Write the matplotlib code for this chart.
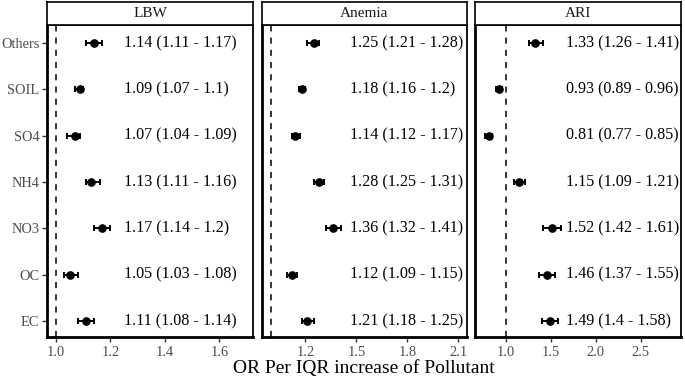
import matplotlib
matplotlib.use("Agg")
import matplotlib.pyplot as plt

plt.rcParams["font.family"] = ["Liberation Serif", "DejaVu Serif"]

# Pollutants, top to bottom
pollutants = ["Others", "SOIL", "SO4", "NH4", "NO3", "OC", "EC"]
outcomes = ["LBW", "Anemia", "ARI"]

lbw_or = [1.14, 1.09, 1.07, 1.13, 1.17, 1.05, 1.11]
lbw_lo = [1.11, 1.07, 1.04, 1.11, 1.14, 1.03, 1.08]
lbw_hi = [1.17, 1.10, 1.09, 1.16, 1.20, 1.08, 1.14]

anemia_or = [1.25, 1.18, 1.14, 1.28, 1.36, 1.12, 1.21]
anemia_lo = [1.21, 1.16, 1.12, 1.25, 1.32, 1.09, 1.18]
anemia_hi = [1.28, 1.20, 1.17, 1.31, 1.41, 1.15, 1.25]

ari_or = [1.33, 0.93, 0.81, 1.15, 1.52, 1.46, 1.49]
ari_lo = [1.26, 0.89, 0.77, 1.09, 1.42, 1.37, 1.40]
ari_hi = [1.41, 0.96, 0.85, 1.21, 1.61, 1.55, 1.58]

lbw_ticks = [1.0, 1.2, 1.4, 1.6]
anemia_ticks = [1.2, 1.5, 1.8, 2.1]
ari_ticks = [1.0, 1.5, 2.0, 2.5]

W, H = 685, 380
fig = plt.figure(figsize=(W / 100, H / 100), dpi=100)

# panel pixel layout: (left, right, xlim, text x in axes fraction, data...)
panels = [
    (47, 253, (0.967, 1.724), 0.374, lbw_or, lbw_lo, lbw_hi, lbw_ticks),
    (262, 467, (0.945, 2.151), 0.43, anemia_or, anemia_lo, anemia_hi, anemia_ticks),
    (475, 681, (0.659, 2.948), 0.442, ari_or, ari_lo, ari_hi, ari_ticks),
]
top, bottom, strip_top = 25, 337, 2
n = len(pollutants)
ypos = [n - i for i in range(n)]


def fmt(v):
    return f"{v:g}"


for k, (l, r, xlim, tx, est, lo, hi, ticks) in enumerate(panels):
    ax = fig.add_axes([l / W, 1 - bottom / H, (r - l) / W, (bottom - top) / H])
    ax.axvline(1.0, color="black", linestyle=(0, (4, 4)), linewidth=1.1, zorder=1)
    xerr = [[e - a for e, a in zip(est, lo)], [b - e for e, b in zip(est, hi)]]
    ax.errorbar(est, ypos, xerr=xerr, fmt="o", color="black", markersize=5.2,
                elinewidth=1.4, capsize=2.5, capthick=1.4, zorder=3)
    for y, e, a, b in zip(ypos, est, lo, hi):
        ax.text(tx, y, f"{fmt(e)} ({fmt(a)} - {fmt(b)})", transform=ax.get_yaxis_transform(),
                ha="left", va="center", fontsize=11.6, color="black")
    ax.set_xlim(*xlim)
    ax.set_ylim(0.655, 7.39)
    ax.set_xticks(ticks)
    ax.set_xticklabels([f"{t:.1f}" for t in ticks])
    ax.set_yticks(ypos)
    if k == 0:
        ax.set_yticklabels(pollutants)
        ax.tick_params(axis="y", length=3.5, width=1.0, colors="#333333",
                       labelsize=10.4, labelcolor="#4d4d4d", pad=2)
    else:
        ax.tick_params(axis="y", left=False, labelleft=False)
    ax.tick_params(axis="x", length=3.5, width=1.0, colors="#333333",
                   labelsize=10.4, labelcolor="#4d4d4d", pad=3)
    for s in ax.spines.values():
        s.set_linewidth(1.3)
        s.set_color("black")
    ax.spines["left"].set_linewidth(2.0)
    ax.spines["bottom"].set_linewidth(2.0)

    # facet strip
    sax = fig.add_axes([l / W, 1 - top / H, (r - l) / W, (top - strip_top) / H])
    sax.set_xticks([])
    sax.set_yticks([])
    for s in sax.spines.values():
        s.set_linewidth(1.2)
        s.set_color("black")
    sax.text(0.5, 0.5, outcomes[k], ha="center", va="center", fontsize=11,
             color="#1a1a1a", transform=sax.transAxes)

fig.text((47 + 681) / 2 / W, 1 - 368 / H, "OR Per IQR increase of Pollutant",
         ha="center", va="center", fontsize=14)

fig.savefig("out.png", dpi=100)
